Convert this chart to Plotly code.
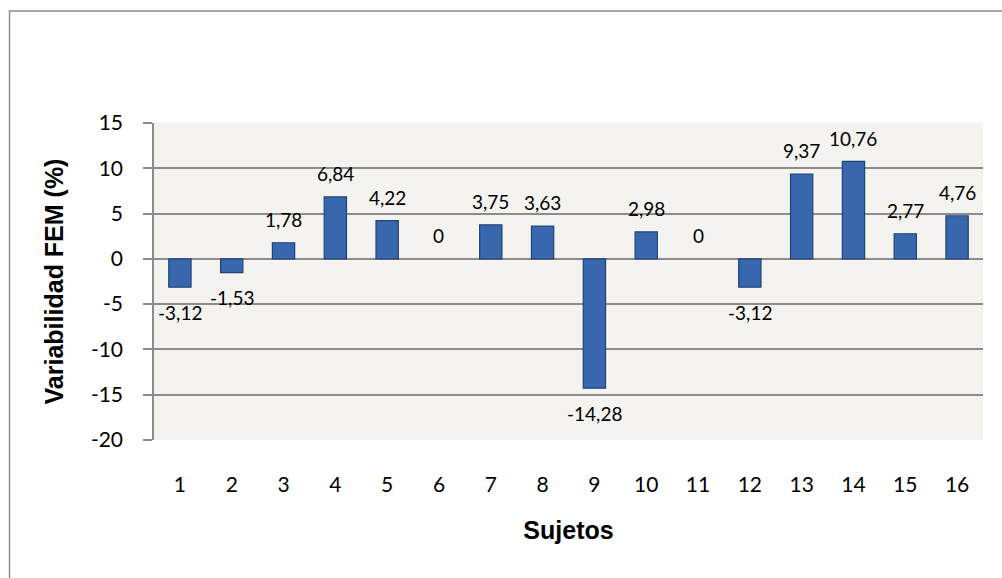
import plotly.graph_objects as go

sujetos = list(range(1, 17))
variabilidad = [-3.12, -1.53, 1.78, 6.84, 4.22, 0, 3.75, 3.63, -14.28, 2.98, 0, -3.12, 9.37, 10.76, 2.77, 4.76]
y_ticks = [-20, -15, -10, -5, 0, 5, 10, 15]
y_tick_text = [str(t) for t in y_ticks]


def fmt(v):
    if v == 0:
        return "0"
    return f"{v:.2f}".replace(".", ",")


fig = go.Figure()
fig.add_trace(go.Bar(
    x=sujetos, y=variabilidad,
    width=0.43,
    marker=dict(color="#3867AD",
                line=dict(color="#1F4479",
                          width=[0 if v == 0 else 1.2 for v in variabilidad])),
    hoverinfo="x+y",
))

annotations = []
for s, v in zip(sujetos, variabilidad):
    annotations.append(dict(
        x=s, y=v, xref="x", yref="y", text=fmt(v), showarrow=False,
        yshift=(-25 if v < 0 else 23),
        font=dict(family="Lato", size=19, color="#000000"),
    ))

fig.update_layout(
    width=1002, height=578,
    margin=dict(l=154, r=19, t=123, b=138),
    paper_bgcolor="#ffffff",
    plot_bgcolor="#F4F3EF",
    showlegend=False,
    annotations=annotations,
    shapes=[dict(type="rect", xref="paper", yref="paper",
                 x0=-0.1743, x1=1.2, y0=-0.6, y1=1.3533,
                 line=dict(color="#8C8C8C", width=1.5), layer="below")],
    xaxis=dict(
        range=[0.5, 16.5],
        tickvals=sujetos, ticktext=[str(s) for s in sujetos],
        showgrid=False,
        showline=False,
        zeroline=False,
        ticks="",
        tickfont=dict(family="Lato", size=21, color="#000000"),
        ticklabelstandoff=30,
        title=dict(text="<b>Sujetos</b>", standoff=26,
                   font=dict(family="Liberation Sans", size=25, color="#000000")),
        fixedrange=True,
    ),
    yaxis=dict(
        range=[-20, 15],
        tickvals=y_ticks, ticktext=y_tick_text,
        showgrid=True, gridcolor="#8C8C8C", gridwidth=1.5,
        zeroline=False,
        showline=True, linecolor="#8C8C8C", linewidth=1.5,
        ticks="outside", ticklen=9, tickcolor="#8C8C8C", tickwidth=1.5,
        tickfont=dict(family="Lato", size=21, color="#000000"),
        ticklabelstandoff=16,
        title=dict(text="<b>Variabilidad FEM (%)</b>", standoff=20,
                   font=dict(family="Liberation Sans", size=25, color="#000000")),
        fixedrange=True,
    ),
)

fig.write_html("out.html")
